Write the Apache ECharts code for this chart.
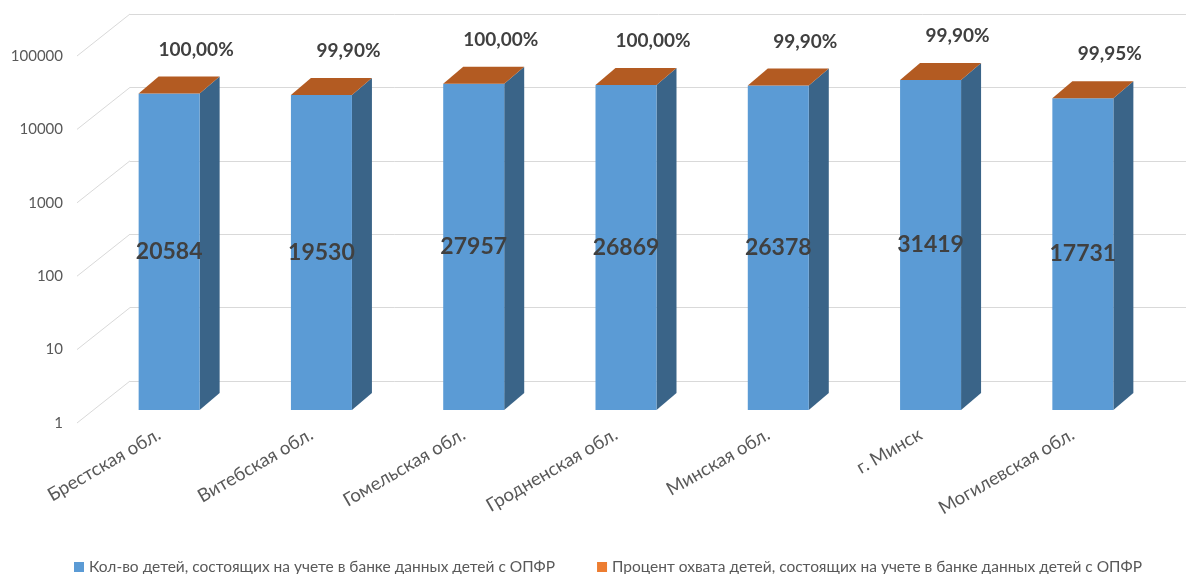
<!DOCTYPE html>
<html>
<head>
<meta charset="utf-8">
<script src="https://cdn.jsdelivr.net/npm/echarts@6/dist/echarts.min.js"></script>
<style>
html,body{margin:0;padding:0;background:#fff;}
#chart{width:1186px;height:574px;}
</style>
</head>
<body>
<div id="chart"></div>
<script>
// ---- data ----
const categories = ['Брестская обл.', 'Витебская обл.', 'Гомельская обл.', 'Гродненская обл.', 'Минская обл.', 'г. Минск', 'Могилевская обл.'];
const counts = [20584, 19530, 27957, 26869, 26378, 31419, 17731];
const percents = [100.00, 99.90, 100.00, 100.00, 99.90, 99.90, 99.95];
const yTicks = [1, 10, 100, 1000, 10000, 100000];
const seriesNames = ['Кол-во детей, состоящих на учете в банке данных детей с ОПФР', 'Процент охвата детей, состоящих на учете в банке данных детей с ОПФР'];

// ---- 3D geometry (pixels) ----
const FONT = 'Lato, "Noto Sans", sans-serif';
const DX = -37, DY = 29;      // wall -> bar front face
const SX = 20, SY = -17;      // bar depth
const FX = -53, FY = 42;      // wall -> front edge of floor/side wall
const BW = 61;

function barGeom(api, i, v) {
  const top = api.coord([i, v]);
  const bot = api.coord([i, 1]);
  const cx = top[0] + DX;
  return {cx: cx, x0: cx - BW / 2, x1: cx + BW / 2, yT: top[1] + DY, yB: bot[1] + DY};
}

const chart = echarts.init(document.getElementById('chart'));
chart.setOption({
  animation: false,
  backgroundColor: '#fff',
  textStyle: {fontFamily: FONT},
  legend: {
    top: 559, left: 74, padding: 0,
    itemWidth: 10, itemHeight: 10, itemGap: 42, icon: 'rect',
    textStyle: {fontSize: 15.5, color: '#595959', fontFamily: FONT},
    data: seriesNames
  },
  grid: [
    {left: 130, top: 14, width: 1066, height: 367, outerBoundsMode: 'none', containLabel: false},
    {left: 83, top: 56, width: 1066, height: 367, outerBoundsMode: 'none', containLabel: false}
  ],
  xAxis: [
    {type: 'category', gridIndex: 0, data: categories, axisLine: {show: false}, axisTick: {show: false}, axisLabel: {show: false}, splitLine: {show: false}},
    {type: 'category', gridIndex: 1, data: categories, axisLine: {show: false}, axisTick: {show: false}, splitLine: {show: false},
      axisLabel: {rotate: 30, margin: 10, fontSize: 18.5, color: '#595959', fontFamily: FONT, interval: 0}}
  ],
  yAxis: [
    {type: 'log', gridIndex: 0, min: 1, max: 100000, logBase: 10, axisLine: {show: false}, axisTick: {show: false}, axisLabel: {show: false},
      splitLine: {show: true, lineStyle: {color: '#D9D9D9', width: 1}}},
    {type: 'log', gridIndex: 1, min: 1, max: 100000, logBase: 10, axisLine: {show: false}, axisTick: {show: false}, splitLine: {show: false},
      axisLabel: {margin: 20, fontSize: 15, color: '#595959', fontFamily: FONT, formatter: function (v) { return String(v); }}}
  ],
  series: [
    {
      type: 'custom', name: 'wall', silent: true, xAxisIndex: 0, yAxisIndex: 0, legendHoverLink: false,
      data: yTicks.map(function (t) { return [0, t]; }),
      renderItem: function (params, api) {
        const p = api.coord([0, api.value(1)]);
        const x = params.coordSys.x;
        return {type: 'line', shape: {x1: x, y1: p[1], x2: x + FX, y2: p[1] + FY}, style: {stroke: '#D9D9D9', lineWidth: 1}};
      },
      z: 1
    },
    {
      type: 'custom', name: seriesNames[0], xAxisIndex: 0, yAxisIndex: 0,
      itemStyle: {color: '#5B9BD5'},
      data: counts.map(function (c, i) { return [i, c]; }),
      renderItem: function (params, api) {
        const i = api.value(0), v = api.value(1);
        const g = barGeom(api, i, v);
        const mid = api.coord([i, Math.sqrt(v)])[1] + DY;
        return {type: 'group', children: [
          {type: 'polygon', shape: {points: [[g.x1, g.yT], [g.x1 + SX, g.yT + SY], [g.x1 + SX, g.yB + SY], [g.x1, g.yB]]}, style: {fill: '#3A6488'}},
          {type: 'rect', shape: {x: g.x0, y: g.yT, width: BW, height: g.yB - g.yT}, style: {fill: '#5B9BD5'}},
          {type: 'text', x: g.cx, y: mid, style: {text: String(v), fill: '#404040', font: 'bold 23px ' + FONT, align: 'center', verticalAlign: 'middle'}, z2: 10}
        ]};
      },
      z: 2
    },
    {
      type: 'custom', name: seriesNames[1], xAxisIndex: 0, yAxisIndex: 0,
      itemStyle: {color: '#ED7D31'},
      data: counts.map(function (c, i) { return [i, c, percents[i]]; }),
      renderItem: function (params, api) {
        const i = api.value(0), v = api.value(1), pct = api.value(2);
        const g = barGeom(api, i, v);
        const txt = pct.toFixed(2).replace('.', ',') + '%';
        return {type: 'group', children: [
          {type: 'polygon', shape: {points: [[g.x0, g.yT], [g.x1, g.yT], [g.x1 + SX, g.yT + SY], [g.x0 + SX, g.yT + SY]]}, style: {fill: '#B35B22'}},
          {type: 'text', x: g.cx + 27, y: g.yT - 44, style: {text: txt, fill: '#404040', font: 'bold 19px ' + FONT, align: 'center', verticalAlign: 'middle'}, z2: 10}
        ]};
      },
      z: 3
    }
  ]
});
</script>
</body>
</html>
